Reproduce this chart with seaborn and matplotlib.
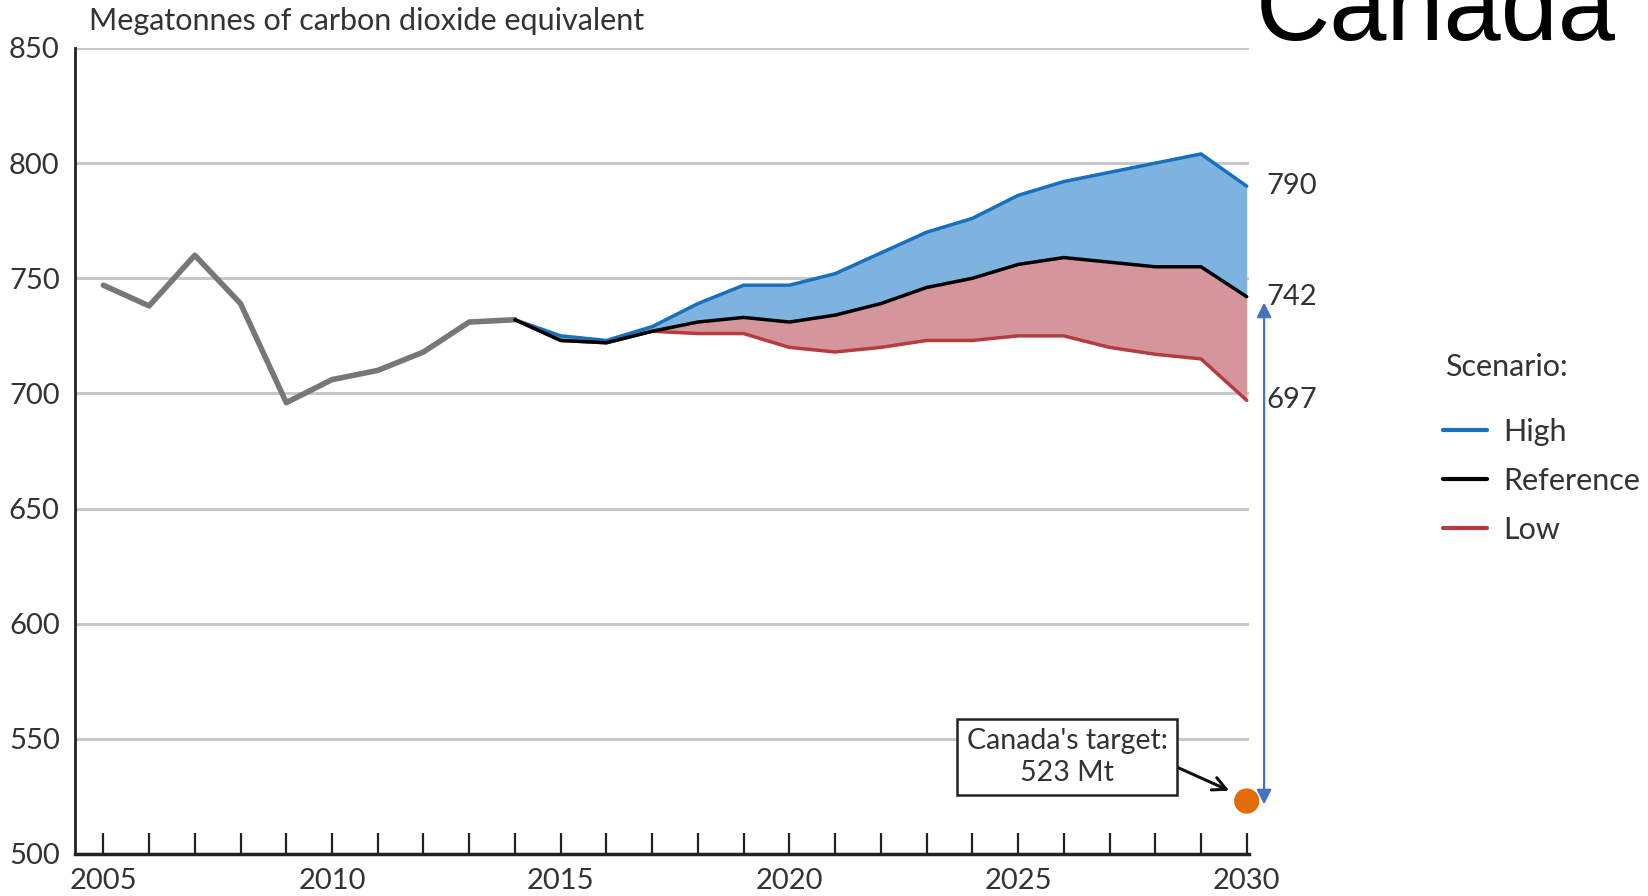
import matplotlib
matplotlib.use("Agg")
import matplotlib.pyplot as plt
import seaborn as sns
import pandas as pd
from matplotlib.ticker import MultipleLocator

# ---- data ----
hist_years = [2005, 2006, 2007, 2008, 2009, 2010, 2011, 2012, 2013, 2014]
hist_values = [747, 738, 760, 739, 696, 706, 710, 718, 731, 732]

proj_years = [2014, 2015, 2016, 2017, 2018, 2019, 2020, 2021, 2022,
              2023, 2024, 2025, 2026, 2027, 2028, 2029, 2030]
high_values = [732, 725, 723, 729, 739, 747, 747, 752, 761, 770, 776, 786, 792, 796, 800, 804, 790]
ref_values = [732, 723, 722, 727, 731, 733, 731, 734, 739, 746, 750, 756, 759, 757, 755, 755, 742]
low_values = [732, 723, 722, 727, 726, 726, 720, 718, 720, 723, 723, 725, 725, 720, 717, 715, 697]

scenarios = ["High", "Reference", "Low"]
end_labels = ["790", "742", "697"]
target_year = [2030]
target_value = [523]
y_ticks = [500, 550, 600, 650, 700, 750, 800, 850]
x_major = [2005, 2010, 2015, 2020, 2025, 2030]

colors = {"High": "#1670BE", "Reference": "#000000", "Low": "#B43C41"}

# ---- style ----
sns.set_style("ticks")
plt.rcParams["font.family"] = ["Lato", "DejaVu Sans"]

W, H = 1648, 896
fig = plt.figure(figsize=(W / 100, H / 100), dpi=100)
ax = fig.add_axes([75 / W, 1 - 854 / H, 1174 / W, 806 / H])

hist_df = pd.DataFrame({"Year": hist_years, "Mt": hist_values})
proj_df = pd.concat([
    pd.DataFrame({"Year": proj_years, "Mt": v, "Scenario": s})
    for s, v in zip(scenarios, [high_values, ref_values, low_values])
], ignore_index=True)

# fills
ax.fill_between(proj_years, ref_values, high_values, color="#7EB2DF", lw=0, zorder=1)
ax.fill_between(proj_years, low_values, ref_values, color="#D4969B", lw=0, zorder=1)

sns.lineplot(data=hist_df, x="Year", y="Mt", color="#777777", lw=4, ax=ax,
             legend=False, zorder=3)
sns.lineplot(data=proj_df, x="Year", y="Mt", hue="Scenario", hue_order=scenarios,
             palette=colors, lw=2.5, ax=ax)

ax.lines[1].set_zorder(4)    # high
ax.lines[2].set_zorder(6)    # reference on top
ax.lines[3].set_zorder(4.5)  # low

# target dot
sns.scatterplot(x=target_year, y=target_value, color="#E36C0A", s=330, ax=ax,
                zorder=7, edgecolor="none", legend=False, clip_on=False)

# axes limits & ticks
ax.set_xlim(2004.38, 2030.05)
ax.set_ylim(500, 850)
ax.set_yticks(y_ticks)
ax.set_xticks(x_major)
ax.xaxis.set_minor_locator(MultipleLocator(1))
ax.set_xlabel("")
ax.set_ylabel("")
ax.tick_params(axis="y", length=0, pad=11, labelsize=21, labelcolor="#333333")
ax.tick_params(axis="x", which="both", direction="in", length=15, width=1.6,
               color="#222222", pad=10, labelsize=21, labelcolor="#333333")
ax.grid(axis="y", color="#c8c8c8", lw=2.2, zorder=0)
ax.set_axisbelow(True)
for side in ("top", "right"):
    ax.spines[side].set_visible(False)
ax.spines["left"].set_linewidth(2)
ax.spines["bottom"].set_linewidth(2.5)
ax.spines["left"].set_color("#222222")
ax.spines["bottom"].set_color("#222222")

# end labels
for v, lab in zip([high_values[-1], ref_values[-1], low_values[-1]], end_labels):
    ax.text(2030.42, v, lab, ha="left", va="center", fontsize=21, color="#333333",
            clip_on=False)

# blue double arrow
ax.annotate("", xy=(2030.38, 739.5), xytext=(2030.38, 521.5),
            arrowprops=dict(arrowstyle="<|-|>", color="#4472C4", lw=1.6,
                            mutation_scale=22, shrinkA=0, shrinkB=0),
            annotation_clip=False)

# target annotation
ax.annotate("Canada's target:\n523 Mt", xy=(2029.62, 527.5), xytext=(2026.07, 542.1),
            ha="center", va="center", fontsize=20.5, color="#333333", linespacing=1.3,
            bbox=dict(boxstyle="square,pad=0.32", fc="white", ec="#222222", lw=1.8),
            arrowprops=dict(arrowstyle="->", color="#111111", lw=2.2, mutation_scale=24,
                            relpos=(1.0, 0.4), shrinkA=0, shrinkB=0),
            zorder=8)

# legend
handles, labels = ax.get_legend_handles_labels()
old = ax.get_legend()
if old is not None:
    old.remove()
leg = ax.legend(handles, labels, loc="upper left",
                bbox_to_anchor=(1443 / W, 1 - 418 / H), bbox_transform=fig.transFigure,
                frameon=False, fontsize=22, borderaxespad=0, borderpad=0,
                handlelength=1.45, handletextpad=0.52, labelspacing=0.69)
for h in leg.legend_handles:
    h.set_linewidth(3)
for t in leg.get_texts():
    t.set_color("#333333")
fig.text(1445 / W, 1 - 367 / H, "Scenario:", ha="left", va="center",
         fontsize=22, color="#333333")

# titles
fig.text(89 / W, 1 - 30 / H, "Megatonnes of carbon dioxide equivalent",
         ha="left", va="baseline", fontsize=22, color="#333333")
fig.text(1256 / W, 1 - 40 / H, "Canada", ha="left", va="baseline",
         fontsize=74, color="black", family=["Liberation Sans", "DejaVu Sans"])

fig.savefig("out.png", dpi=100)
